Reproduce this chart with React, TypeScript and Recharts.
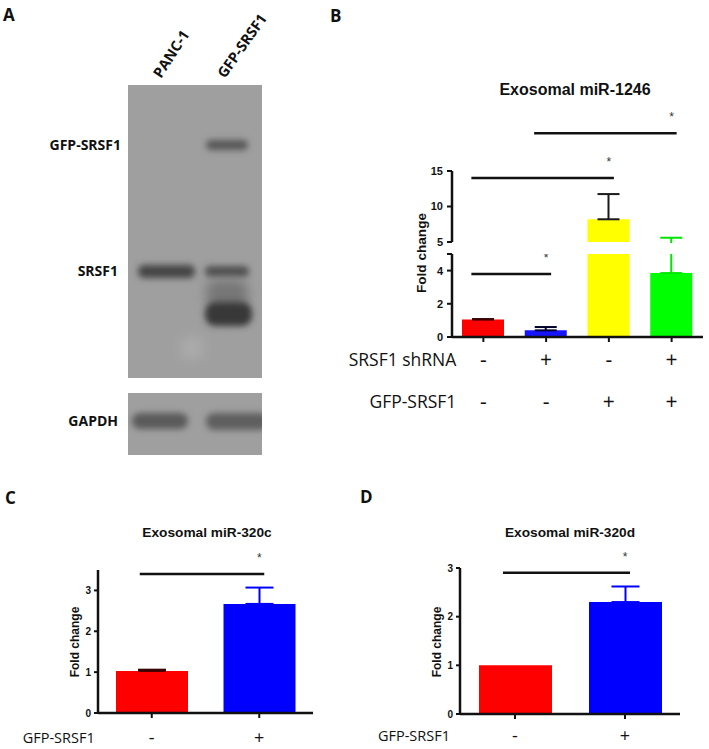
import React from "react";
import { BarChart, Bar, XAxis, YAxis, ErrorBar, ReferenceLine, Cell } from "recharts";

const NUM_FONT = "'Liberation Sans', Arial, sans-serif";
const TXT_FONT = "'Open Sans', 'Noto Sans', sans-serif";
const INK = "#111";

// panel B: exosomal miR-1246 (broken y axis)
const groupsB = ["ctrl", "sh", "gfp", "shgfp"];
const shrnaSigns = ["-", "+", "-", "+"];
const gfpSignsB = ["-", "-", "+", "+"];
const mir1246 = [1.05, 0.4, 8.2, 3.85];
const mir1246Err = [0.03, 0.2, 3.55, 1.75];
const fillsB = ["#ff0000", "#1414ff", "#ffff00", "#00ff00"];
const errInkB = ["#3a0000", "#00002e", "#1a1a1a", "#00e600"];
const sigLowB = [{ from: "ctrl", to: "sh", y: 3.8 }];
const sigUpB = [
  { from: "ctrl", to: "gfp", y: 14.0 },
  { from: "sh", to: "shgfp", y: 20.3 },
];

// panels C and D
const groupsCD = ["ctrl", "gfp"];
const gfpSignsCD = ["-", "+"];
const mir320c = [1.03, 2.67];
const mir320cErr = [0.03, 0.4];
const mir320d = [1.0, 2.3];
const mir320dErr = [0, 0.32];
const fillsCD = ["#ff0000", "#0000ff"];
const errInkCD = ["#3a0000", "#0000ff"];
const sigC = [{ from: "ctrl", to: "gfp", y: 3.4 }];
const sigD = [{ from: "ctrl", to: "gfp", y: 2.9 }];

function toRows(groups: string[], vals: number[], errs: number[]) {
  return groups.map((g, i) => {
    const row: any = { name: g, value: vals[i] };
    if (errs[i] > 0) row["e" + i] = [0, errs[i]];
    return row;
  });
}

const rowsB = toRows(groupsB, mir1246, mir1246Err);
const rowsC = toRows(groupsCD, mir320c, mir320cErr);
const rowsD = toRows(groupsCD, mir320d, mir320dErr);

function renderBars(fills: string[], errInk: string[], size: number, capHalf: number) {
  return (
    <Bar dataKey="value" barSize={size} isAnimationActive={false}>
      {fills.map((f, i) => (
        <Cell key={i} fill={f} />
      ))}
      {errInk.map((c, i) => (
        <ErrorBar key={i} dataKey={"e" + i} stroke={c} strokeWidth={2} width={capHalf} direction="y" />
      ))}
    </Bar>
  );
}

const sigShape = (props: any) => {
  const { x1, y1, x2, y2 } = props;
  return (
    <g>
      <line x1={x1 - 12} y1={y1} x2={x2 + 5} y2={y2} stroke={INK} strokeWidth={2.5} />
      <text x={x2} y={y1 - 12} textAnchor="middle" fontSize={12} fill="#333" fontFamily={NUM_FONT}>
        *
      </text>
    </g>
  );
};

function renderSig(list: { from: string; to: string; y: number }[]) {
  return list.map((s, i) => (
    <ReferenceLine
      key={"sig" + i}
      segment={[
        { x: s.from, y: s.y },
        { x: s.to, y: s.y },
      ]}
      ifOverflow="visible"
      shape={sigShape}
    />
  ));
}

const signTick =
  (rows: string[][], labels: string[], rowDy: number[], labelGap: number, size: number, signSize: number) =>
  (props: any) => {
    const { x, y, index } = props;
    return (
      <g>
        {rows.map((r, k) => (
          <text key={k} x={x} y={y + rowDy[k] + 1} textAnchor="middle" fontFamily={TXT_FONT} fontSize={signSize} fill={INK}>
            {r[index]}
          </text>
        ))}
        {index === 0 &&
          labels.map((l, k) => (
            <text key={"l" + k} x={x - labelGap} y={y + rowDy[k]} textAnchor="end" fontFamily={TXT_FONT} fontSize={size} fill={INK}>
              {l}
            </text>
          ))}
      </g>
    );
  };

const yStyle = (fs: number, size: number, margin: number) => ({
  axisLine: { stroke: INK, strokeWidth: 2.5 },
  tickLine: { stroke: INK, strokeWidth: 2 },
  tickSize: size,
  tickMargin: margin,
  tick: { fontSize: fs, fontWeight: 700, fill: INK, fontFamily: NUM_FONT },
  interval: 0 as const,
});

const xStyle = {
  axisLine: { stroke: INK, strokeWidth: 2.5 },
  tickLine: { stroke: INK, strokeWidth: 2 },
  tickSize: 5,
  tickMargin: 0,
  interval: 0 as const,
};

function Label({ x, y, text, size, bold, rotate, font }: any) {
  return (
    <div
      style={{
        position: "absolute",
        left: x,
        top: y,
        transform: `translate(-50%, -50%)${rotate ? " rotate(-90deg)" : ""}`,
        fontFamily: font || NUM_FONT,
        fontWeight: bold ? 700 : 400,
        fontSize: size,
        lineHeight: 1,
        whiteSpace: "nowrap",
        color: INK,
      }}
    >
      {text}
    </div>
  );
}

function Blot() {
  return (
    <svg width={330} height={470} style={{ position: "absolute", left: 0, top: 0 }}>
      <defs>
        <filter id="b3" x="-50%" y="-100%" width="200%" height="300%">
          <feGaussianBlur stdDeviation="3.2" />
        </filter>
        <filter id="b6" x="-50%" y="-100%" width="200%" height="300%">
          <feGaussianBlur stdDeviation="6" />
        </filter>
        <clipPath id="clipMain">
          <rect x={128} y={85} width={134} height={293} />
        </clipPath>
        <clipPath id="clipG">
          <rect x={128} y={393} width={134} height={62} />
        </clipPath>
      </defs>
      <rect x={128} y={85} width={134} height={293} fill="#9f9f9f" />
      <g clipPath="url(#clipMain)">
        <rect x={206} y={140} width={42} height={10} rx={5} fill="#575757" filter="url(#b3)" />
        <rect x={138} y={265} width={57} height={13} rx={6} fill="#454545" filter="url(#b3)" />
        <rect x={205} y={266} width={44} height={11} rx={5} fill="#505050" filter="url(#b3)" />
        <rect x={206} y={280} width={42} height={28} rx={10} fill="#767676" filter="url(#b6)" />
        <rect x={205} y={302} width={47} height={24} rx={10} fill="#383838" filter="url(#b3)" />
        <circle cx={192} cy={348} r={12} fill="#ababab" filter="url(#b6)" />
      </g>
      <rect x={128} y={393} width={134} height={62} fill="#9f9f9f" />
      <g clipPath="url(#clipG)">
        <rect x={132} y={413} width={56} height={16} rx={8} fill="#5a5a5a" filter="url(#b3)" />
        <rect x={206} y={413} width={62} height={17} rx={8} fill="#5e5e5e" filter="url(#b3)" />
      </g>
      <g fontFamily={TXT_FONT} fontWeight={700} fontSize={14} fill={INK} textAnchor="end">
        <text x={121} y={150}>GFP-SRSF1</text>
        <text x={118} y={276}>SRSF1</text>
        <text x={118} y={426}>GAPDH</text>
      </g>
      <g fontFamily={TXT_FONT} fontWeight={700} fontSize={14.5} fill={INK}>
        <text transform="translate(161,79) rotate(-57)">PANC-1</text>
        <text transform="translate(225,79) rotate(-55)">GFP-SRSF1</text>
      </g>
    </svg>
  );
}

function PanelLetter({ x, y, t }: any) {
  return (
    <div
      style={{
        position: "absolute",
        left: x,
        top: y,
        fontFamily: TXT_FONT,
        fontWeight: 700,
        fontSize: 17,
        lineHeight: 1,
        color: INK,
      }}
    >
      {t}
    </div>
  );
}

export default function App() {
  return (
    <div style={{ position: "absolute", left: 0, top: 0, width: 709, height: 749, background: "#fff", overflow: "hidden" }}>
      <Blot />
      <PanelLetter x={3} y={6} t="A" />
      <PanelLetter x={330} y={7} t="B" />
      <PanelLetter x={5} y={489} t="C" />
      <PanelLetter x={360} y={488} t="D" />

      {/* B lower segment */}
      <div style={{ position: "absolute", left: 330, top: 244 }}>
        <BarChart width={379} height={180} data={rowsB} margin={{ top: 10, right: 6, bottom: 0, left: 0 }}>
          <XAxis
            dataKey="name"
            height={87}
            {...xStyle}
            tick={signTick([shrnaSigns, gfpSignsB], ["SRSF1 shRNA", "GFP-SRSF1"], [24, 66], 27, 17.5, 21)}
          />
          <YAxis
            domain={[0, 5]}
            ticks={[0, 2, 4, 5]}
            tickFormatter={(v: number) => (v === 5 ? "" : String(v))}
            allowDataOverflow
            width={122}
            {...yStyle(11, 5, 4)}
          />
          {renderBars(fillsB, errInkB, 42, 11)}
          {renderSig(sigLowB)}
        </BarChart>
      </div>
      {/* B upper segment */}
      <div style={{ position: "absolute", left: 330, top: 60 }}>
        <BarChart width={379} height={189} data={rowsB} margin={{ top: 111, right: 6, bottom: 7, left: 0 }}>
          <XAxis dataKey="name" hide />
          <YAxis domain={[5, 15]} ticks={[5, 10, 15]} allowDataOverflow width={122} {...yStyle(11, 5, 4)} />
          {renderBars(fillsB, errInkB, 42, 11)}
          {renderSig(sigUpB)}
        </BarChart>
      </div>
      {/* blank gap of the broken axis */}
      <div style={{ position: "absolute", left: 454, top: 243, width: 255, height: 10.5, background: "#fff" }} />
      <Label x={575} y={90} text="Exosomal miR-1246" size={16} bold />
      <Label x={422} y={253} text="Fold change" size={13.6} bold rotate />

      {/* C */}
      <div style={{ position: "absolute", left: 0, top: 540 }}>
        <BarChart width={330} height={209} data={rowsC} margin={{ top: 30, right: 17, bottom: 0, left: 0 }}>
          <XAxis dataKey="name" height={36} {...xStyle} tick={signTick([gfpSignsCD], ["GFP-SRSF1"], [25], 57, 14.5, 18)} />
          <YAxis domain={[0, 3.5]} ticks={[0, 1, 2, 3]} allowDataOverflow width={98} {...yStyle(10, 4, 3)} />
          {renderBars(fillsCD, errInkCD, 72, 14)}
          {renderSig(sigC)}
        </BarChart>
      </div>
      <Label x={207} y={533} text="Exosomal miR-320c" size={13.7} bold />
      <Label x={75} y={642} text="Fold change" size={12} bold rotate />

      {/* D */}
      <div style={{ position: "absolute", left: 350, top: 540 }}>
        <BarChart width={350} height={209} data={rowsD} margin={{ top: 28, right: 20, bottom: 0, left: 0 }}>
          <XAxis dataKey="name" height={35} {...xStyle} tick={signTick([gfpSignsCD], ["GFP-SRSF1"], [22], 65, 14.5, 18)} />
          <YAxis domain={[0, 3]} ticks={[0, 1, 2, 3]} allowDataOverflow width={110} {...yStyle(10, 4, 3)} />
          {renderBars(fillsCD, errInkCD, 73, 14)}
          {renderSig(sigD)}
        </BarChart>
      </div>
      <Label x={570} y={533} text="Exosomal miR-320d" size={13.7} bold />
      <Label x={437} y={642} text="Fold change" size={12} bold rotate />
    </div>
  );
}
